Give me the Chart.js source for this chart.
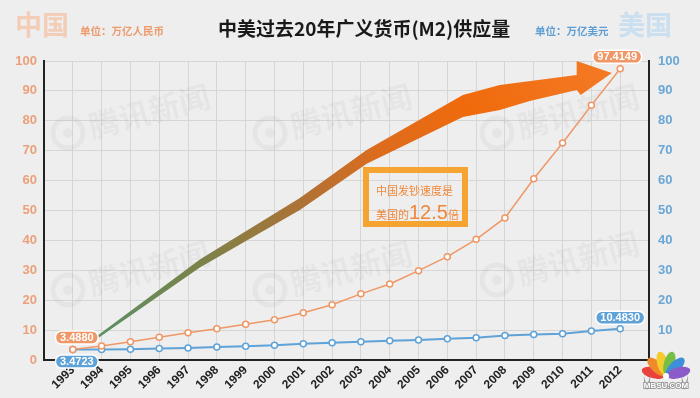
<!DOCTYPE html>
<html>
<head>
<meta charset="utf-8">
<script src="https://cdn.jsdelivr.net/npm/chart.js@4/dist/chart.umd.min.js"></script>
<style>
    body { margin: 0; background: #eeeeee; }
    #wrap { position: relative; width: 700px; height: 398px; background: #eeeeee; overflow: hidden; }
    #m2-chart { position: absolute; left: 0; top: 0; }
    .txt { position: absolute; white-space: nowrap; font-family: "Noto Sans CJK SC", sans-serif; }
    #title { left: 218px; top: 14px; font-size: 19px; font-weight: bold; color: #1a1a1a; }
    #cn-big { left: 15px; top: 4px; font-size: 27px; font-weight: bold; color: #f3cdb8; }
    #cn-unit { left: 80px; top: 23px; font-size: 10.5px; font-weight: bold; color: #ee9a6c; }
    #us-unit { left: 535px; top: 23px; font-size: 10.5px; font-weight: bold; color: #5d9fd4; }
    #us-big { left: 618px; top: 4px; font-size: 27px; font-weight: bold; color: #cadff0; }
    #callout { position: absolute; left: 363px; top: 167px; width: 93px; height: 48px;
        border: 6px solid #f5a432; color: #f0883a; font-family: "Noto Sans CJK SC", sans-serif; }
    #callout .l1 { position: absolute; left: 7px; top: 11px; font-size: 11px; line-height: 12px; }
    #callout .l2 { position: absolute; left: 7px; top: 28px; font-size: 11px; line-height: 22px; }
    #callout .big { font-size: 20px; font-family: "Liberation Sans", Arial, sans-serif; }
</style>
</head>
<body>
<div id="wrap">
    <canvas id="m2-chart" width="700" height="398"></canvas>
    <div class="txt" id="cn-big">中国</div>
    <div class="txt" id="cn-unit">单位：万亿人民币</div>
    <div class="txt" id="title">中美过去20年广义货币(M2)供应量</div>
    <div class="txt" id="us-unit">单位：万亿美元</div>
    <div class="txt" id="us-big">美国</div>
    <div id="callout">
        <div class="l1">中国发钞速度是</div>
        <div class="l2">美国的<span class="big">12.5</span>倍</div>
    </div>
</div>
<script>
(function() {
    'use strict';

    // Data (万亿)
    const years = [1993, 1994, 1995, 1996, 1997, 1998, 1999, 2000, 2001, 2002,
                   2003, 2004, 2005, 2006, 2007, 2008, 2009, 2010, 2011, 2012];
    const chinaM2 = [3.4880, 4.6923, 6.0751, 7.6095, 9.0995, 10.4499, 11.9898, 13.4610, 15.8302, 18.5007,
                     22.1223, 25.4107, 29.8756, 34.5578, 40.3442, 47.5167, 60.6225, 72.5852, 85.1591, 97.4149];
    const usM2 = [3.4723, 3.4856, 3.6297, 3.8182, 4.0342, 4.3784, 4.6383, 4.9254, 5.4302, 5.7738,
                  6.0686, 6.4182, 6.6836, 7.0719, 7.4719, 8.1917, 8.4961, 8.8017, 9.6596, 10.4830];
    const axisTicks = [0, 10, 20, 30, 40, 50, 60, 70, 80, 90, 100];

    // Big arrow outline, in (year, value) units
    const arrowUpper = [[1993.78, 7.6], [1997.41, 33.6], [2000.88, 54.2], [2003.20, 70.2],
                        [2006.54, 88.6], [2007.82, 92.0], [2010.49, 95.3]];
    const arrowHead = [[2010.49, 100.0], [2011.71, 96.0], [2010.63, 88.6]];
    const arrowLower = [[2010.49, 90.3], [2008.86, 86.6], [2007.82, 83.6], [2006.54, 81.3],
                        [2003.20, 65.6], [2000.88, 50.2], [1997.41, 30.9], [1993.82, 6.9]];

    const orange = '#ef9766';
    const blue = '#5fa2d8';
    const gridColor = '#d6d6d6';
    const numFont = '"Liberation Sans", Arial, sans-serif';

    function points(values) {
        return years.map(function(y, i) { return { x: y, y: values[i] }; });
    }

    // Faint 腾讯新闻 watermarks
    const watermarkPlugin = {
        id: 'watermark',
        beforeDatasetsDraw: function(chart) {
            const ctx = chart.ctx;
            const spots = [[68, 133], [270, 133], [497, 133], [68, 290], [270, 290], [497, 280]];
            ctx.save();
            ctx.fillStyle = 'rgba(0,0,0,0.035)';
            ctx.strokeStyle = 'rgba(0,0,0,0.035)';
            spots.forEach(function(s) {
                ctx.save();
                ctx.translate(s[0], s[1]);
                ctx.rotate(-0.26);
                ctx.lineWidth = 5;
                ctx.beginPath();
                ctx.arc(0, 0, 15, 0, Math.PI * 2);
                ctx.stroke();
                ctx.beginPath();
                ctx.arc(0, 0, 5, 0, Math.PI * 2);
                ctx.fill();
                ctx.font = 'bold 31px "Noto Sans CJK SC"';
                ctx.textBaseline = 'middle';
                ctx.fillText('腾讯新闻', 22, 0);
                ctx.restore();
            });
            ctx.restore();
        }
    };

    const arrowPlugin = {
        id: 'bigArrow',
        beforeDatasetsDraw: function(chart) {
            const ctx = chart.ctx;
            const xs = chart.scales.x;
            const ys = chart.scales.yCn;
            const outline = arrowUpper.concat(arrowHead, arrowLower);
            const px = function(p) { return [xs.getPixelForValue(p[0]), ys.getPixelForValue(p[1])]; };
            const start = px(arrowUpper[0]);
            const tip = px(arrowHead[1]);
            const grad = ctx.createLinearGradient(start[0], start[1], tip[0], tip[1]);
            grad.addColorStop(0, '#5a9066');
            grad.addColorStop(0.22, '#7b8249');
            grad.addColorStop(0.42, '#ad7236');
            grad.addColorStop(0.58, '#dc6c1e');
            grad.addColorStop(0.75, '#f06a0c');
            grad.addColorStop(1, '#f47a24');
            ctx.save();
            ctx.beginPath();
            outline.forEach(function(p, i) {
                const q = px(p);
                if (i === 0) ctx.moveTo(q[0], q[1]); else ctx.lineTo(q[0], q[1]);
            });
            ctx.closePath();
            ctx.fillStyle = grad;
            ctx.fill();
            ctx.restore();
        }
    };

    // Value badges on first and last points
    const badgePlugin = {
        id: 'badges',
        afterDatasetsDraw: function(chart) {
            const ctx = chart.ctx;
            const last = years.length - 1;
            const badges = [
                { ds: 0, idx: 0, dx: 4, dy: -12, color: orange, values: chinaM2 },
                { ds: 1, idx: 0, dx: 4, dy: 12, color: blue, values: usM2 },
                { ds: 0, idx: last, dx: -3, dy: -12, color: orange, values: chinaM2 },
                { ds: 1, idx: last, dx: 0, dy: -11, color: blue, values: usM2 }
            ];
            ctx.save();
            ctx.font = 'bold 11px ' + numFont;
            ctx.textAlign = 'center';
            ctx.textBaseline = 'middle';
            badges.forEach(function(b) {
                const pt = chart.getDatasetMeta(b.ds).data[b.idx];
                const text = b.values[b.idx].toFixed(4);
                const w = ctx.measureText(text).width + 9;
                const h = 13;
                const cx = pt.x + b.dx;
                const cy = pt.y + b.dy;
                ctx.beginPath();
                ctx.roundRect(cx - w / 2, cy - h / 2, w, h, 6);
                ctx.fillStyle = b.color;
                ctx.fill();
                ctx.lineWidth = 1.5;
                ctx.strokeStyle = '#ffffff';
                ctx.stroke();
                ctx.fillStyle = '#ffffff';
                ctx.fillText(text, cx, cy + 0.5);
            });
            ctx.restore();
        }
    };

    // Small peacock logo in the bottom right corner
    const logoPlugin = {
        id: 'logo',
        afterDraw: function(chart) {
            const ctx = chart.ctx;
            const bx = chart.chartArea.right + 17;
            const by = chart.chartArea.bottom + 16;
            const petals = ['#e8423c', '#f08a2a', '#f4cc2e', '#76be45', '#3d8fd9', '#8b5bc9'];
            ctx.save();
            petals.forEach(function(c, i) {
                const a = -Math.PI + 0.25 + i * (Math.PI - 0.5) / (petals.length - 1);
                ctx.save();
                ctx.translate(bx + Math.cos(a) * 13, by + Math.sin(a) * 13);
                ctx.rotate(a);
                ctx.beginPath();
                ctx.ellipse(0, 0, 12, 5.5, 0, 0, Math.PI * 2);
                ctx.fillStyle = c;
                ctx.fill();
                ctx.restore();
            });
            ctx.beginPath();
            ctx.arc(bx, by, 3, 0, Math.PI * 2);
            ctx.fillStyle = '#ffffff';
            ctx.fill();
            ctx.font = 'bold 8px ' + numFont;
            ctx.textAlign = 'center';
            ctx.lineWidth = 2;
            ctx.strokeStyle = '#9a9a9a';
            ctx.strokeText('MBSU.COM', bx, by + 12);
            ctx.fillStyle = '#ffffff';
            ctx.fillText('MBSU.COM', bx, by + 12);
            ctx.restore();
        }
    };

    const ctx = document.getElementById('m2-chart').getContext('2d');

    const chart = new Chart(ctx, {
        type: 'line',
        data: {
            datasets: [{
                label: '中国',
                data: points(chinaM2),
                yAxisID: 'yCn',
                borderColor: orange,
                borderWidth: 1.5,
                pointRadius: 3,
                pointBorderWidth: 1.5,
                pointBackgroundColor: '#ffffff',
                pointBorderColor: orange,
                tension: 0
            }, {
                label: '美国',
                data: points(usM2),
                yAxisID: 'yUs',
                borderColor: blue,
                borderWidth: 2,
                pointRadius: 3,
                pointBorderWidth: 1.5,
                pointBackgroundColor: '#ffffff',
                pointBorderColor: blue,
                tension: 0
            }]
        },
        options: {
            responsive: false,
            animation: false,
            devicePixelRatio: 1,
            layout: { padding: { top: 61, left: 0, right: 0, bottom: 0 } },
            plugins: {
                legend: { display: false },
                tooltip: { enabled: false }
            },
            scales: {
                x: {
                    type: 'linear',
                    min: years[0] - 1,
                    max: years[years.length - 1] + 1,
                    afterBuildTicks: function(scale) {
                        scale.ticks = [years[0] - 1].concat(years, [years[years.length - 1] + 1])
                            .map(function(v) { return { value: v }; });
                    },
                    ticks: {
                        autoSkip: false,
                        minRotation: 45,
                        maxRotation: 45,
                        padding: 3,
                        color: '#222222',
                        font: { family: numFont, size: 12, weight: 'bold' },
                        callback: function(v) { return years.indexOf(v) >= 0 ? String(v) : ''; }
                    },
                    grid: { color: gridColor, drawTicks: false },
                    border: { color: '#222222', width: 2 },
                    afterFit: function(scale) { scale.height = 38; }
                },
                yCn: {
                    position: 'left',
                    min: 0,
                    max: 100,
                    afterBuildTicks: function(scale) {
                        scale.ticks = axisTicks.map(function(v) { return { value: v }; });
                    },
                    ticks: {
                        padding: 7,
                        color: '#eca07a',
                        font: { family: numFont, size: 13, weight: 'bold' }
                    },
                    grid: { color: gridColor, drawTicks: false },
                    border: { color: '#222222', width: 2 },
                    afterFit: function(scale) { scale.width = 44; }
                },
                yUs: {
                    position: 'right',
                    min: 0,
                    max: 100,
                    afterBuildTicks: function(scale) {
                        scale.ticks = axisTicks.map(function(v) { return { value: v }; });
                    },
                    ticks: {
                        padding: 9,
                        color: '#6aa7d6',
                        font: { family: numFont, size: 13, weight: 'bold' }
                    },
                    grid: { display: false, drawTicks: false },
                    border: { color: '#222222', width: 2 },
                    afterFit: function(scale) { scale.width = 51; }
                }
            }
        },
        plugins: [watermarkPlugin, arrowPlugin, badgePlugin, logoPlugin]
    });
})();
</script>
</body>
</html>
